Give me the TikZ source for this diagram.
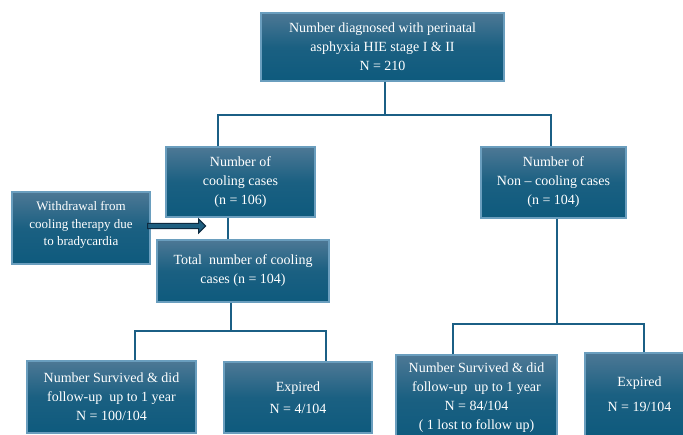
\documentclass[tikz,border=0pt]{standalone}
\usepackage{fontspec}
\setmainfont{Liberation Serif}
\definecolor{boxtop}{HTML}{4D7895}
\definecolor{boxbot}{HTML}{0E5A7D}
\definecolor{boxedge}{HTML}{6A9EBE}
\definecolor{linecol}{HTML}{1B5F85}
\definecolor{arrowedge}{HTML}{0D2A40}
\definecolor{arrowfill}{HTML}{1F5F80}
\begin{document}
\begin{tikzpicture}[x=1pt,y=-1pt,
  box/.style={draw=boxedge, line width=1.3pt, top color=boxtop, bottom color=boxbot,
    middle color=boxbot!80!boxtop, text=white, align=center, inner sep=0pt,
    font=\fontsize{14}{19}\selectfont},
  conn/.style={draw=linecol, line width=2.4pt}]
\useasboundingbox (0,0) rectangle (683,434);
\clip (0,0) rectangle (683,434);
\node[box, minimum width=243, minimum height=68] (top) at (382.5,47)
  {Number diagnosed with perinatal\\asphyxia HIE stage I \& II\\N = 210};
\node[box, minimum width=149, minimum height=70] (cool) at (240.5,182)
  {Number of\\cooling cases\\(n = 106)};
\node[box, minimum width=145, minimum height=71] (noncool) at (553.5,182.5)
  {Number of\\Non -- cooling cases\\(n = 104)};
\node[box, minimum width=138, minimum height=72] (withdraw) at (81,228) {};
\node[text=white, align=center, inner sep=0pt, font=\fontsize{13}{17.5}\selectfont] (withdrawtext) at (81,225)
  {Withdrawal from\\cooling therapy due\\to bradycardia};
\node[box, minimum width=172, minimum height=62] (total) at (243,271)
  {Total\ \ number of cooling\\cases (n = 104)};
\node[box, minimum width=169, minimum height=72] (surv1) at (111.5,397)
  {Number Survived \& did\\follow-up\ \ up to 1 year\\N = 100/104};
\node[box, minimum width=148, minimum height=71] (exp1) at (298,397.5)
  {Expired\\[3pt]N = 4/104};
\node[box, minimum width=161, minimum height=86] (surv2) at (476.5,398)
  {Number Survived \& did\\follow-up\ \ up to 1 year\\N = 84/104\\( 1 lost to follow up)};
\node[box, minimum width=109, minimum height=83] (exp2) at (639.5,394.5)
  {Expired\\[6pt]N = 19/104};
% junction coordinates
\coordinate (j1) at (385,115);
\coordinate (j2) at (231,331);
\coordinate (j3) at (557,324);
\coordinate (ca) at (218,0);
\coordinate (cb) at (551,0);
\coordinate (cc) at (228,0);
\coordinate (la) at (135,0);
\coordinate (lb) at (326,0);
\coordinate (ra) at (453,0);
\coordinate (rb) at (644,0);
% connectors
\draw[conn] (top.south -| j1) -- (j1);
\draw[conn] (cool.north -| ca) |- (j1) -| (noncool.north -| cb);
\draw[conn] (cool.south -| cc) -- (total.north -| cc);
\draw[conn] (total.south -| j2) -- (j2);
\draw[conn] (surv1.north -| la) |- (j2) -| (exp1.north -| lb);
\draw[conn] (noncool.south -| j3) -- (j3);
\draw[conn] (surv2.north -| ra) |- (j3) -| (exp2.north -| rb);
% block arrow
\coordinate (as) at ([yshift=2pt]withdraw.east);
\draw[draw=arrowedge, fill=arrowfill, line width=1pt, line join=miter]
  ([shift={(-3,-2.6)}]as) -- ([shift={(48,-2.6)}]as) -- ([shift={(48,-7)}]as)
  -- ([shift={(55,0)}]as) -- ([shift={(48,7)}]as) -- ([shift={(48,2.6)}]as)
  -- ([shift={(-3,2.6)}]as) -- cycle;
\end{tikzpicture}
\end{document}
